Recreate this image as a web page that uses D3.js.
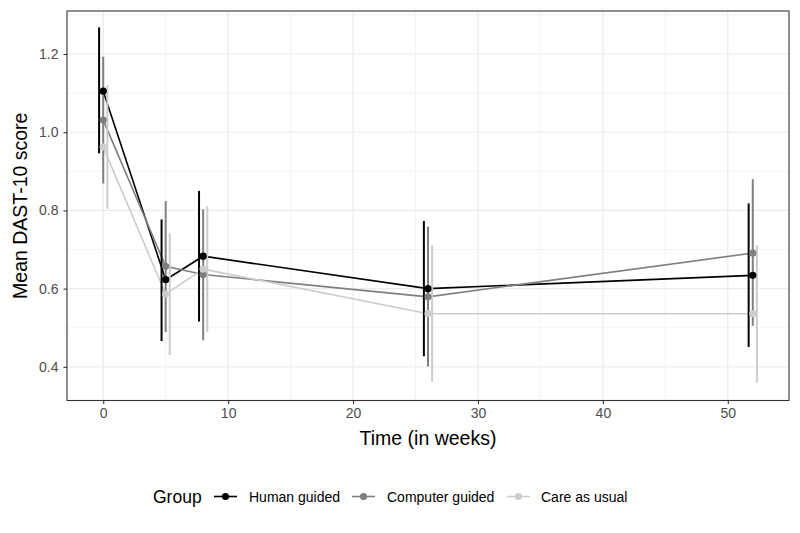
<!DOCTYPE html>
<html>
<head>
<meta charset="utf-8">
<script src="https://cdn.jsdelivr.net/npm/d3@7"></script>
<style>
  body { margin: 0; background: #fff; }
  text { font-family: "Liberation Sans", Arial, sans-serif; }
</style>
</head>
<body>
<svg id="chart" width="800" height="533"></svg>
<script>
// ---- data ----
const weeks = [0, 5, 8, 26, 52];
const groups = ["Human guided", "Computer guided", "Care as usual"];
const colors = ["#000000", "#7f7f7f", "#cccccc"];
const humanMean = [1.105, 0.623, 0.683, 0.600, 0.634];
const humanLow  = [0.946, 0.466, 0.516, 0.427, 0.451];
const humanHigh = [1.268, 0.777, 0.850, 0.773, 0.818];
const computerMean = [1.031, 0.657, 0.636, 0.579, 0.691];
const computerLow  = [0.869, 0.489, 0.468, 0.401, 0.505];
const computerHigh = [1.193, 0.824, 0.803, 0.758, 0.880];
const careMean = [0.962, 0.586, 0.650, 0.536, 0.536];
const careLow  = [0.804, 0.430, 0.489, 0.361, 0.359];
const careHigh = [1.120, 0.741, 0.811, 0.711, 0.711];
const xTicks = [0, 10, 20, 30, 40, 50];
const xMinor = [5, 15, 25, 35, 45];
const yTicks = [0.4, 0.6, 0.8, 1.0, 1.2];
const yMinor = [0.5, 0.7, 0.9, 1.1, 1.3];
const dodge = [-0.33, 0, 0.33];

const series = [
  { name: groups[0], mean: humanMean, low: humanLow, high: humanHigh },
  { name: groups[1], mean: computerMean, low: computerLow, high: computerHigh },
  { name: groups[2], mean: careMean, low: careLow, high: careHigh }
];

// ---- layout ----
const svg = d3.select("#chart");
const L = 67, R = 789, T = 11, B = 400.5;
const x = d3.scaleLinear().domain([-2.9, 54.9]).range([L, R]);
const y = d3.scaleLinear().domain([0.314, 1.310]).range([B, T]);

svg.append("rect").attr("x", L).attr("y", T).attr("width", R - L).attr("height", B - T).attr("fill", "#fff");

// grid
const grid = svg.append("g");
grid.selectAll(".xm").data(xMinor).join("line")
  .attr("x1", d => x(d)).attr("x2", d => x(d)).attr("y1", T).attr("y2", B)
  .attr("stroke", "#ebebeb").attr("stroke-width", 0.6);
grid.selectAll(".ym").data(yMinor).join("line")
  .attr("y1", d => y(d)).attr("y2", d => y(d)).attr("x1", L).attr("x2", R)
  .attr("stroke", "#ebebeb").attr("stroke-width", 0.6);
grid.selectAll(".xM").data(xTicks).join("line")
  .attr("x1", d => x(d)).attr("x2", d => x(d)).attr("y1", T).attr("y2", B)
  .attr("stroke", "#ebebeb").attr("stroke-width", 1.2);
grid.selectAll(".yM").data(yTicks).join("line")
  .attr("y1", d => y(d)).attr("y2", d => y(d)).attr("x1", L).attr("x2", R)
  .attr("stroke", "#ebebeb").attr("stroke-width", 1.2);

// lines
const line = d3.line().x((d, i) => x(weeks[i])).y(d => y(d));
series.forEach((s, gi) => {
  svg.append("path").datum(s.mean).attr("d", line)
    .attr("fill", "none").attr("stroke", colors[gi]).attr("stroke-width", 1.6);
});

// error bars
series.forEach((s, gi) => {
  svg.append("g").selectAll("line").data(weeks).join("line")
    .attr("x1", (d) => x(d + dodge[gi])).attr("x2", (d) => x(d + dodge[gi]))
    .attr("y1", (d, i) => y(s.low[i])).attr("y2", (d, i) => y(s.high[i]))
    .attr("stroke", colors[gi]).attr("stroke-width", 2);
});

// points
series.forEach((s, gi) => {
  svg.append("g").selectAll("circle").data(weeks).join("circle")
    .attr("cx", d => x(d)).attr("cy", (d, i) => y(s.mean[i]))
    .attr("r", 3.6).attr("fill", colors[gi]);
});

// panel border
svg.append("rect").attr("x", L).attr("y", T).attr("width", R - L).attr("height", B - T)
  .attr("fill", "none").attr("stroke", "#333333").attr("stroke-width", 1.1);

// axes
const xAxis = svg.append("g").attr("transform", `translate(0,${B})`)
  .call(d3.axisBottom(x).tickValues(xTicks).tickSize(3.5).tickPadding(4).tickFormat(d3.format("d")));
const yAxis = svg.append("g").attr("transform", `translate(${L},0)`)
  .call(d3.axisLeft(y).tickValues(yTicks).tickSize(3.5).tickPadding(5).tickFormat(d3.format(".1f")));
[xAxis, yAxis].forEach(a => {
  a.select(".domain").remove();
  a.selectAll(".tick line").attr("stroke", "#333333").attr("stroke-width", 1.1);
  a.selectAll(".tick text").attr("fill", "#4d4d4d").style("font-size", "14px")
    .style("font-family", "'Liberation Sans', Arial, sans-serif");
});

// axis titles
svg.append("text").attr("x", (L + R) / 2).attr("y", 445).attr("text-anchor", "middle")
  .attr("font-size", 19.5).attr("fill", "#000").text("Time (in weeks)");
svg.append("text").attr("transform", `translate(27,${(T + B) / 2}) rotate(-90)`)
  .attr("text-anchor", "middle").attr("font-size", 19.5).attr("fill", "#000").text("Mean DAST-10 score");

// legend
const lg = svg.append("g");
lg.append("text").attr("x", 153).attr("y", 503).attr("font-size", 17.5).text("Group");
const keyX = [214, 352, 507];
const labX = [249, 387, 541];
series.forEach((s, gi) => {
  lg.append("line").attr("x1", keyX[gi]).attr("x2", keyX[gi] + 23).attr("y1", 496.5).attr("y2", 496.5)
    .attr("stroke", colors[gi]).attr("stroke-width", 1.6);
  lg.append("circle").attr("cx", keyX[gi] + 11.5).attr("cy", 496.5).attr("r", 3.6).attr("fill", colors[gi]);
  lg.append("text").attr("x", labX[gi]).attr("y", 501.5).attr("font-size", 14).attr("fill", "#000").text(s.name);
});
</script>
</body>
</html>
